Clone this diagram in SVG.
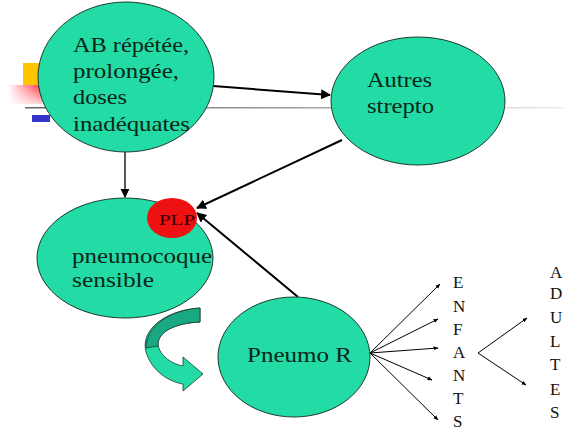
<svg xmlns="http://www.w3.org/2000/svg" width="563" height="430" viewBox="0 0 563 430">
<style>
.node{fill:#22dba5;stroke:#1d3b30;stroke-width:1}
text{font-family:'Liberation Serif','Times New Roman','DejaVu Serif',serif}
.lbl{font-size:22px;fill:#0b2619}
.let{font-size:17px;fill:#111}
.c{stroke:#000;fill:none}
</style>
<defs>
<marker id="ah" viewBox="0 0 10 10" refX="9" refY="5" markerWidth="5" markerHeight="5" orient="auto" markerUnits="strokeWidth">
<path d="M0,0 L10,5 L0,10 Z" fill="#000"/>
</marker>
<marker id="ahm" viewBox="0 0 10 10" refX="9" refY="5" markerWidth="7" markerHeight="7" orient="auto" markerUnits="strokeWidth">
<path d="M0,0 L10,5 L0,10 Z" fill="#000"/>
</marker>
<marker id="ahs" viewBox="0 0 10 10" refX="9" refY="5" markerWidth="5" markerHeight="5" orient="auto" markerUnits="strokeWidth">
<path d="M0,1 L10,5 L0,9 Z" fill="#000"/>
</marker>
<linearGradient id="redg" x1="1" y1="0" x2="0" y2="0">
<stop offset="0" stop-color="#ff3040"/>
<stop offset="1" stop-color="#ff3040" stop-opacity="0"/>
</linearGradient>
<linearGradient id="redv" x1="0" y1="0" x2="0" y2="1">
<stop offset="0" stop-color="#fff" stop-opacity="0"/>
<stop offset="1" stop-color="#fff" stop-opacity="0.8"/>
</linearGradient>
<linearGradient id="lineg" x1="0" y1="0" x2="1" y2="0">
<stop offset="0" stop-color="#666"/>
<stop offset="0.6" stop-color="#aaa"/>
<stop offset="1" stop-color="#eee"/>
</linearGradient>
</defs>
<rect width="563" height="430" fill="#fff"/>
<g id="decor">
<rect x="23" y="63" width="17" height="22" fill="#ffc400"/>
<rect x="8" y="85" width="34" height="19" fill="url(#redg)"/>
<rect x="8" y="85" width="34" height="19" fill="url(#redv)"/>
<rect x="25" y="107" width="540" height="1.5" fill="url(#lineg)"/>
<rect x="32" y="115" width="18" height="7" fill="#3535cc"/>
</g>
<g id="connectors">
<line class="c" stroke-width="2" x1="213" y1="86" x2="330" y2="95" marker-end="url(#ah)"/>
<line class="c" stroke-width="1.3" x1="125" y1="152" x2="125" y2="197" marker-end="url(#ahm)"/>
<line class="c" stroke-width="2" x1="342" y1="140" x2="197" y2="208" marker-end="url(#ah)"/>
<line class="c" stroke-width="2" x1="298" y1="297" x2="197" y2="213" marker-end="url(#ah)"/>
<line class="c" stroke-width="1" x1="370" y1="353" x2="440" y2="284" marker-end="url(#ahs)"/>
<line class="c" stroke-width="1" x1="370" y1="353" x2="438" y2="319" marker-end="url(#ahs)"/>
<line class="c" stroke-width="1" x1="370" y1="353" x2="438" y2="348" marker-end="url(#ahs)"/>
<line class="c" stroke-width="1" x1="370" y1="353" x2="432" y2="380" marker-end="url(#ahs)"/>
<line class="c" stroke-width="1" x1="370" y1="353" x2="438" y2="420" marker-end="url(#ahs)"/>
<line class="c" stroke-width="1" x1="478" y1="353" x2="527" y2="318" marker-end="url(#ahs)"/>
<line class="c" stroke-width="1" x1="478" y1="353" x2="526" y2="385" marker-end="url(#ahs)"/>
</g>
<g id="ab">
<ellipse class="node" cx="126" cy="77" rx="88" ry="75"/>
<text class="lbl" x="73" y="52" textLength="116" lengthAdjust="spacingAndGlyphs">AB répétée,</text>
<text class="lbl" x="73" y="78" textLength="106" lengthAdjust="spacingAndGlyphs">prolongée,</text>
<text class="lbl" x="73" y="104" textLength="54" lengthAdjust="spacingAndGlyphs">doses</text>
<text class="lbl" x="73" y="131" textLength="117" lengthAdjust="spacingAndGlyphs">inadéquates</text>
</g>
<g id="autres">
<ellipse class="node" cx="418" cy="101" rx="87" ry="64"/>
<text class="lbl" x="367" y="87" textLength="65" lengthAdjust="spacingAndGlyphs">Autres</text>
<text class="lbl" x="367" y="113" textLength="67" lengthAdjust="spacingAndGlyphs">strepto</text>
</g>
<g id="pneumocoque">
<ellipse class="node" cx="125" cy="258" rx="88" ry="60"/>
<text class="lbl" x="72" y="263" textLength="140" lengthAdjust="spacingAndGlyphs">pneumocoque</text>
<text class="lbl" x="72" y="287" textLength="82" lengthAdjust="spacingAndGlyphs">sensible</text>
</g>
<g id="plp">
<ellipse cx="172" cy="218" rx="25" ry="20" fill="#ee1111"/>
<text x="159" y="225" font-size="14" fill="#300" textLength="36" lengthAdjust="spacingAndGlyphs">PLP</text>
</g>
<g id="curved-arrow">
<path d="M200,308 C165,310 140,330 146,352 C152,372 170,382 183,384 L183,391 L203,374 L183,357 L183,366 C172,364 160,356 158,345 C157,332 175,323 200,322 Z" fill="#22dba5" stroke="#1d3b30" stroke-width="0.8"/>
<path d="M200,308 C170,310 146,326 146,348 L158,346 C157,332 175,323 200,322 Z" fill="#1aa882" stroke="#1d3b30" stroke-width="0.8"/>
</g>
<g id="pneumor">
<ellipse class="node" cx="294" cy="357" rx="76" ry="60"/>
<text class="lbl" x="247" y="362" textLength="105" lengthAdjust="spacingAndGlyphs">Pneumo R</text>
</g>
<g id="enfants">
<text class="let" x="453" y="288">E</text>
<text class="let" x="453" y="312">N</text>
<text class="let" x="453" y="335">F</text>
<text class="let" x="453" y="358">A</text>
<text class="let" x="453" y="381">N</text>
<text class="let" x="453" y="404">T</text>
<text class="let" x="453" y="427">S</text>
</g>
<g id="adultes">
<text class="let" x="550" y="278">A</text>
<text class="let" x="550" y="299">D</text>
<text class="let" x="550" y="323">U</text>
<text class="let" x="550" y="347">L</text>
<text class="let" x="550" y="370">T</text>
<text class="let" x="550" y="395">E</text>
<text class="let" x="550" y="418">S</text>
</g>
</svg>
